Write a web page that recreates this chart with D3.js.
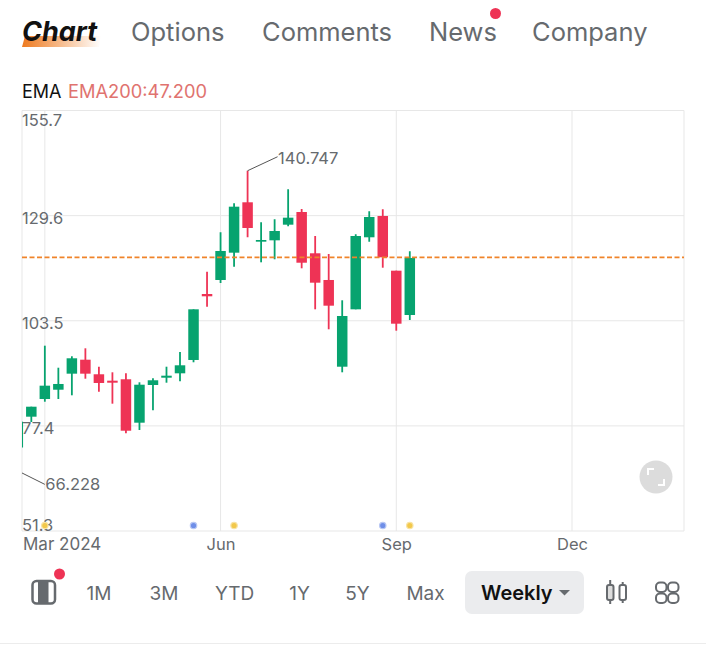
<!DOCTYPE html>
<html>
<head>
<meta charset="utf-8">
<script src="https://cdn.jsdelivr.net/npm/d3@7"></script>
<style>
  html, body { margin: 0; padding: 0; background: #fff; }
  svg { display: block; font-family: Inter, "Noto Sans", sans-serif; }
</style>
</head>
<body>
<svg id="chart" width="706" height="647"></svg>
<script>
// weekly candles, index 0 sits mostly off the left edge
const opens  = [72.03, 79.68, 84.07, 86.38, 90.36, 93.83, 90.21, 88.62, 88.97, 78.19, 87.55, 89.36, 90.45, 93.76, 110.14, 113.62, 120.40, 132.91, 123.13, 123.47, 127.35, 130.50, 120.25, 113.62, 92.09, 106.34, 124.22, 129.51, 115.93, 104.93];
const closes = [78.44, 82.16, 87.38, 87.80, 94.18, 90.36, 88.05, 88.12, 76.20, 87.62, 88.72, 89.86, 92.44, 106.34, 109.57, 120.82, 131.82, 126.53, 123.55, 125.78, 129.09, 117.91, 112.95, 107.24, 104.68, 124.54, 129.26, 119.25, 102.77, 119.08];
const highs  = [79.00, 82.16, 97.31, 91.84, 94.68, 96.66, 92.09, 90.70, 90.45, 88.22, 89.21, 92.09, 95.74, 106.34, 115.68, 125.46, 132.66, 140.747, 127.94, 128.69, 136.14, 131.25, 124.54, 120.07, 108.58, 124.96, 130.67, 131.17, 115.93, 120.74];
const lows   = [66.228, 78.36, 83.40, 84.07, 84.99, 89.11, 85.89, 82.91, 75.56, 76.38, 81.27, 88.12, 88.47, 93.19, 106.99, 112.87, 116.92, 124.22, 118.01, 118.76, 126.95, 116.52, 106.34, 101.38, 90.70, 106.34, 123.13, 116.67, 101.03, 103.69];

const yTicks = [155.7, 129.6, 103.5, 77.4, 51.3];
const xTickIdx = [2, 15, 28, 41];
const xTickLabels = ["Mar 2024", "Jun", "Sep", "Dec"];
const lastPrice = 119.25;
const blueDots = [13, 27];
const yellowDots = [2, 16, 29];
const tabs = ["Chart", "Options", "Comments", "News", "Company"];
const ranges = ["1M", "3M", "YTD", "1Y", "5Y", "Max"];

const svg = d3.select("#chart");
const plot = { left: 22, right: 684, top: 110.5, bottom: 531 };
const up = "#07a36f", down = "#ee3355", grid = "#e7e7e7", grey = "#666a6e";

const x = d3.scaleLinear().domain([0, 41]).range([17.8, 572]);
const y = d3.scaleLinear().domain([51.3, 155.7]).range([plot.bottom, plot.top]);

// header tabs
const defs = svg.append("defs");
const grad = defs.append("linearGradient").attr("id", "tabGrad");
grad.append("stop").attr("offset", "0%").attr("stop-color", "#ee7a1f");
grad.append("stop").attr("offset", "100%").attr("stop-color", "#ee7a1f").attr("stop-opacity", 0);
defs.append("clipPath").attr("id", "plotClip").append("rect")
  .attr("x", plot.left).attr("y", plot.top)
  .attr("width", plot.right - plot.left).attr("height", plot.bottom - plot.top);

svg.append("path").attr("d", "M25,36H101L99,47H22Z").attr("fill", "url(#tabGrad)");

const tabX = [22, 131, 262, 429, 532];
svg.selectAll(".tab").data(tabs).enter().append("text")
  .attr("class", "tab")
  .attr("x", (d, i) => tabX[i]).attr("y", 41)
  .attr("font-size", (d, i) => i === 0 ? 27 : 25.5)
  .attr("font-weight", (d, i) => i === 0 ? 700 : 400)
  .attr("font-style", (d, i) => i === 0 ? "italic" : "normal")
  .attr("fill", (d, i) => i === 0 ? "#111" : grey)
  .text(d => d);

svg.append("circle").attr("cx", 495.5).attr("cy", 13.5).attr("r", 5.5).attr("fill", down);

svg.append("text").attr("x", 22).attr("y", 98).attr("font-size", 18).attr("fill", "#111").text("EMA");
svg.append("text").attr("x", 68).attr("y", 98).attr("font-size", 18.3).attr("fill", "#e0736f").text("EMA200:47.200");

// grid
svg.append("g").selectAll("line").data(yTicks).enter().append("line")
  .attr("x1", plot.left).attr("x2", plot.right)
  .attr("y1", d => y(d)).attr("y2", d => y(d))
  .attr("stroke", grid);
svg.append("g").selectAll("line").data(xTickIdx).enter().append("line")
  .attr("x1", d => x(d)).attr("x2", d => x(d))
  .attr("y1", plot.top).attr("y2", plot.bottom)
  .attr("stroke", grid);
svg.append("g").selectAll("line").data([plot.left, plot.right]).enter().append("line")
  .attr("x1", d => d).attr("x2", d => d)
  .attr("y1", plot.top).attr("y2", plot.bottom)
  .attr("stroke", grid);

// y axis labels sit inside the plot
const yAxis = svg.append("g")
  .attr("transform", `translate(${plot.left},0)`)
  .call(d3.axisRight(y).tickValues(yTicks).tickSize(0).tickPadding(0).tickFormat(d3.format(".1f")));
yAxis.select(".domain").remove();
yAxis.selectAll("text")
  .attr("font-family", "Inter").attr("font-size", 16.5).attr("fill", grey)
  .attr("dy", d => d === yTicks[0] ? "0.9em" : d === yTicks[4] ? "-0.05em" : "0.45em");

// x axis labels
const xAxis = svg.append("g")
  .attr("transform", `translate(0,${plot.bottom})`)
  .call(d3.axisBottom(x).tickValues(xTickIdx).tickSize(0).tickPadding(7)
    .tickFormat((d, i) => xTickLabels[i]));
xAxis.select(".domain").remove();
xAxis.selectAll("text")
  .attr("font-family", "Inter").attr("font-size", 16.5).attr("fill", grey);
xAxis.selectAll("text").filter((d, i) => i === 0)
  .attr("text-anchor", "start").attr("font-size", 17)
  .attr("x", plot.left + 0.5 - x(xTickIdx[0]));

// orange price line and candles
const candles = svg.append("g").attr("clip-path", "url(#plotClip)");
const bodyW = 10.5;
const idx = d3.range(opens.length);
const colorOf = i => closes[i] >= opens[i] ? up : down;

candles.selectAll(".wick").data(idx).enter().append("line")
  .attr("class", "wick")
  .attr("x1", i => x(i)).attr("x2", i => x(i))
  .attr("y1", i => y(highs[i])).attr("y2", i => y(lows[i]))
  .attr("stroke", colorOf).attr("stroke-width", 1.8);
candles.selectAll(".body").data(idx).enter().append("rect")
  .attr("class", "body")
  .attr("x", i => x(i) - bodyW / 2).attr("width", bodyW)
  .attr("y", i => y(Math.max(opens[i], closes[i])))
  .attr("height", i => Math.abs(y(opens[i]) - y(closes[i])))
  .attr("fill", colorOf);

svg.append("line")
  .attr("x1", plot.left).attr("x2", plot.right)
  .attr("y1", y(lastPrice)).attr("y2", y(lastPrice))
  .attr("stroke", "#f0842a").attr("stroke-width", 1.7).attr("stroke-dasharray", "5 2.5");

// high / low callouts
const hiIdx = d3.maxIndex(highs);
const loIdx = d3.minIndex(lows);
candles.append("line")
  .attr("x1", x(hiIdx)).attr("y1", y(highs[hiIdx]))
  .attr("x2", x(hiIdx) + 30).attr("y2", y(highs[hiIdx]) - 14)
  .attr("stroke", "#555");
svg.append("text").attr("x", x(hiIdx) + 30.5).attr("y", y(highs[hiIdx]) - 7)
  .attr("font-size", 16.5).attr("fill", grey).text(highs[hiIdx].toFixed(3));
candles.append("line")
  .attr("x1", x(loIdx)).attr("y1", y(lows[loIdx]))
  .attr("x2", x(loIdx) + 27).attr("y2", y(lows[loIdx]) + 13.5)
  .attr("stroke", "#555");
svg.append("text").attr("x", x(loIdx) + 27.5).attr("y", y(lows[loIdx]) + 19.5)
  .attr("font-size", 16.5).attr("fill", grey).text(lows[loIdx].toFixed(3));

// event markers along the bottom
svg.selectAll(".blueDot").data(blueDots).enter().append("circle")
  .attr("class", "blueDot")
  .attr("cx", d => x(d)).attr("cy", plot.bottom - 5.5).attr("r", 3.2)
  .attr("fill", "#6f8fe8").attr("stroke", "#b9c8f3").attr("stroke-width", 1.2);
svg.selectAll(".yellowDot").data(yellowDots).enter().append("circle")
  .attr("class", "yellowDot")
  .attr("cx", d => x(d)).attr("cy", plot.bottom - 5.5).attr("r", 3.2)
  .attr("fill", "#f2c84b").attr("stroke", "#f8e3a4").attr("stroke-width", 1.2);

// fullscreen button
const btn = svg.append("g").attr("transform", "translate(656,477)");
btn.append("circle").attr("r", 16.5).attr("fill", "#dcdcdc");
btn.append("path")
  .attr("d", "M-8,-2V-8H-2M2,8H8V2")
  .attr("fill", "none").attr("stroke", "#fff").attr("stroke-width", 2);

// bottom toolbar
const tb = svg.append("g");
tb.append("rect").attr("x", 32.5).attr("y", 581).attr("width", 22.5).attr("height", 22.5).attr("rx", 4)
  .attr("fill", "none").attr("stroke", grey).attr("stroke-width", 2.5);
tb.append("rect").attr("x", 38).attr("y", 581).attr("width", 10.5).attr("height", 22.5).attr("fill", grey);
tb.append("circle").attr("cx", 59.5).attr("cy", 574).attr("r", 5.5).attr("fill", down);

const rangeX = [99, 164, 234.5, 299.5, 357.5, 425.5];
tb.selectAll(".range").data(ranges).enter().append("text")
  .attr("class", "range")
  .attr("x", (d, i) => rangeX[i]).attr("y", 599.5)
  .attr("text-anchor", "middle").attr("font-size", 19).attr("fill", grey)
  .text(d => d);

tb.append("rect").attr("x", 465).attr("y", 571).attr("width", 119).attr("height", 43).attr("rx", 7).attr("fill", "#ebecee");
tb.append("text").attr("x", 481).attr("y", 599.5).attr("font-size", 20).attr("font-weight", 600).attr("fill", "#111").text("Weekly");
tb.append("path").attr("d", "M559,590H570L564.5,595.5Z").attr("fill", grey);

const cIcon = tb.append("g").attr("fill", "none").attr("stroke", grey).attr("stroke-width", 2);
cIcon.append("rect").attr("x", 607).attr("y", 585).attr("width", 6.5).attr("height", 15).attr("rx", 2).attr("fill", "#ddd");
cIcon.append("rect").attr("x", 619.5).attr("y", 585).attr("width", 6.5).attr("height", 15).attr("rx", 2);
cIcon.append("path").attr("d", "M610.2,580V585M610.2,600V604M622.7,582V585M622.7,600V603");

const gIcon = tb.append("g").attr("fill", "none").attr("stroke", grey).attr("stroke-width", 2);
[[661, 587], [673, 587], [661, 598], [673, 598]].forEach(c => {
  gIcon.append("rect").attr("x", c[0] - 5).attr("y", c[1] - 4.5).attr("width", 10.5).attr("height", 9.5).attr("rx", 4);
});

svg.append("line").attr("x1", 0).attr("x2", 706).attr("y1", 643.5).attr("y2", 643.5).attr("stroke", "#ececec");
</script>
</body>
</html>
